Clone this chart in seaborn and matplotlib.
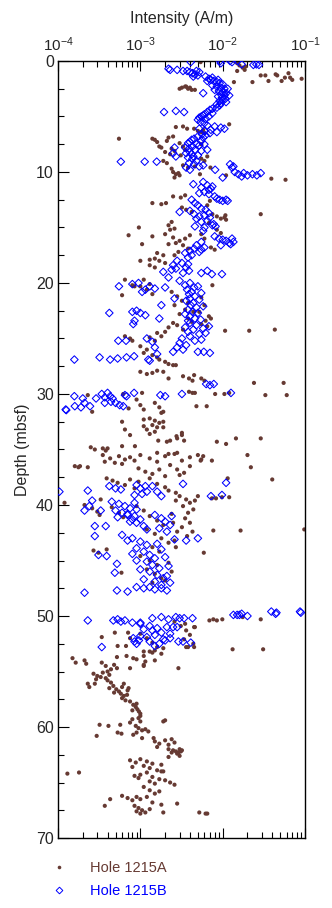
import matplotlib
matplotlib.use("Agg")
import matplotlib.pyplot as plt
import seaborn as sns
import pandas as pd
from matplotlib.lines import Line2D
from matplotlib.ticker import MultipleLocator, LogLocator, NullFormatter

# ---------------- data: (depth mbsf, intensity A/m) ----------------
hole_a_0_12 = [
    (0.1, 5.4e-3), (0.0, 1.4e-2), (0.2, 1.5e-2), (0.4, 1.6e-2), (0.6, 1.75e-2), (0.9, 1.5e-2),
    (0.5, 1.9e-2), (0.8, 1.85e-2), (1.3, 2.9e-2), (1.3, 3.3e-2), (1.8, 3.6e-2), (1.2, 4.4e-2),
    (1.3, 4.6e-2), (1.8, 5.2e-2), (1.5, 5.7e-2), (1.1, 6.3e-2), (1.5, 6.6e-2), (1.7, 7.0e-2),
    (1.6, 9.1e-2), (1.9, 1.37e-2), (1.9, 2.3e-2),
    (2.5, 3.0e-3), (2.4, 3.2e-3), (2.3, 3.5e-3), (2.5, 3.8e-3), (2.4, 4.0e-3), (2.6, 4.2e-3),
    (2.3, 3.6e-3), (2.6, 4.6e-3),
    (5.95, 2.7e-3), (5.9, 3.3e-3), (6.1, 3.7e-3), (6.1, 4.5e-3), (6.3, 5.0e-3), (6.4, 5.5e-3),
    (6.2, 5.8e-3), (6.5, 6.0e-3), (5.7, 1.2e-2),
    (7.0, 5.5e-4), (7.0, 1.4e-3), (7.1, 1.5e-3), (7.3, 1.6e-3), (7.8, 1.8e-3), (6.9, 2.2e-3),
    (6.8, 2.5e-3), (7.9, 2.4e-3), (8.1, 2.6e-3), (8.2, 2.0e-3), (8.4, 2.3e-3), (7.4, 3.0e-3),
    (7.7, 3.3e-3), (8.0, 3.5e-3), (8.5, 3.1e-3), (9.4, 3.3e-3), (9.6, 3.8e-3), (9.5, 4.6e-3),
    (9.7, 2.4e-3), (10.0, 2.5e-3), (10.2, 2.7e-3), (10.1, 2.9e-3), (10.3, 3.0e-3), (10.2, 5.3e-3),
    (10.3, 1.1e-2), (10.6, 3.9e-2), (10.7, 5.8e-2), (9.6, 7.1e-3), (7.2, 2.1e-3), (7.7, 1.7e-3),
    (8.8, 5.5e-3), (9.0, 6.0e-3), (8.6, 6.5e-3), (7.5, 5.5e-3), (9.2, 2.1e-3), (9.0, 1.9e-3),
    (10.5, 2.6e-3),
]
hole_a_12_24 = [
    (12.2, 2.5e-3), (12.3, 3.1e-3), (12.1, 3.5e-3), (12.8, 1.4e-3), (12.9, 1.8e-3), (12.8, 2.05e-3),
    (13.2, 3.2e-3), (13.4, 3.6e-3), (13.6, 4.2e-3), (13.8, 7.5e-3), (14.0, 8.5e-3), (14.2, 9.5e-3),
    (14.1, 1.05e-2), (14.3, 1.1e-2), (13.9, 1.08e-2), (13.8, 2.9e-2),
    (14.5, 2.4e-3), (14.8, 2.2e-3), (15.1, 2.6e-3), (15.2, 2.3e-3), (15.0, 9.6e-4), (15.7, 7.2e-4),
    (15.8, 1.4e-3), (15.6, 2.0e-3), (15.9, 2.5e-3), (16.2, 3.0e-3), (16.4, 2.7e-3), (16.6, 3.3e-3),
    (16.9, 3.8e-3), (17.2, 2.9e-3), (17.5, 2.6e-3), (16.0, 3.5e-3), (15.7, 4.0e-3), (16.5, 2.2e-3),
    (16.5, 1.05e-3), (17.3, 1.6e-3), (17.5, 1.9e-3), (17.8, 1.5e-3), (18.0, 1.7e-3), (18.2, 2.0e-3),
    (17.9, 1.3e-3), (18.0, 1.0e-3), (18.4, 1.3e-3), (18.6, 1.5e-3),
    (19.7, 6.5e-4), (20.2, 8.0e-4), (20.3, 8.5e-4), (21.1, 6.0e-4), (19.7, 1.1e-3), (20.1, 1.3e-3),
    (20.6, 1.2e-3), (21.0, 1.4e-3), (20.3, 1.0e-3),
    (20.8, 2.4e-3), (21.2, 2.8e-3), (21.6, 3.2e-3), (22.0, 2.6e-3), (22.4, 3.5e-3), (22.8, 3.0e-3),
    (23.2, 3.8e-3), (23.5, 4.2e-3), (21.8, 3.8e-3), (22.6, 4.4e-3), (21.3, 5.5e-3), (22.0, 6.0e-3),
    (22.6, 5.2e-3), (23.0, 6.8e-3), (23.2, 7.2e-3), (23.4, 6.2e-3), (20.2, 7.5e-3),
    (15.6, 5.5e-3), (16.0, 6.0e-3), (15.2, 8.5e-3), (15.5, 9.5e-3), (12.6, 7.0e-3), (13.0, 6.5e-3),
    (14.6, 6.8e-3), (16.8, 7.2e-3), (17.0, 8.0e-3),
]
hole_a_24_36 = [
    (24.3, 1.07e-2), (24.3, 2.1e-2), (24.2, 4.3e-2),
    (23.6, 2.5e-3), (23.8, 2.8e-3), (24.0, 2.2e-3), (24.4, 2.0e-3), (24.8, 1.8e-3), (25.2, 1.5e-3),
    (24.9, 1.3e-3), (24.5, 1.6e-3), (24.2, 3.3e-3), (23.7, 5.5e-3), (23.9, 6.5e-3),
    (24.8, 6.5e-4), (25.0, 7.5e-4), (25.2, 8.0e-4), (25.7, 1.0e-3), (26.0, 1.2e-3), (26.3, 1.1e-3),
    (26.5, 1.4e-3), (26.7, 1.6e-3), (26.9, 1.7e-3), (27.1, 2.0e-3), (27.3, 2.2e-3), (27.4, 2.5e-3),
    (27.4, 2.7e-3), (28.0, 1.0e-3), (28.2, 1.2e-3), (28.1, 1.4e-3), (27.9, 1.6e-3), (28.0, 1.9e-3),
    (28.6, 2.2e-3), (28.4, 3.3e-3), (28.6, 3.9e-3), (28.3, 4.5e-3), (28.8, 4.3e-3), (28.6, 5.5e-3),
    (28.8, 6.0e-3),
    (30.0, 8.1e-3), (30.0, 1.05e-2), (29.9, 1.2e-2), (29.0, 2.4e-2), (30.1, 3.3e-2), (29.0, 5.5e-2),
    (30.1, 6.0e-2),
    (30.1, 2.3e-4), (31.6, 2.6e-4), (30.0, 6.2e-4), (29.9, 1.05e-3), (30.5, 9.0e-4), (31.0, 1.0e-3),
    (31.4, 1.1e-3), (30.8, 1.5e-3), (31.2, 1.7e-3), (31.6, 1.9e-3), (31.3, 7.2e-4),
    (29.8, 3.9e-3), (29.9, 4.3e-3), (29.9, 4.6e-3), (31.1, 4.8e-3), (31.1, 6.4e-3),
    (32.2, 1.3e-3), (32.4, 1.5e-3), (32.6, 1.7e-3), (32.8, 1.4e-3), (33.0, 1.6e-3), (33.2, 1.2e-3),
    (33.4, 1.5e-3), (33.6, 1.3e-3), (32.5, 1.9e-3), (33.0, 1.9e-3), (32.3, 1.1e-3), (32.9, 1.1e-3),
    (31.7, 1.8e-3), (32.5, 6.0e-4), (33.2, 6.5e-4), (33.7, 7.5e-4),
    (33.7, 3.2e-3), (34.2, 3.4e-3), (34.0, 2.8e-3), (34.3, 8.5e-3), (34.5, 1.1e-2), (34.0, 1.45e-2),
    (34.0, 2.9e-2), (34.2, 1.65e-3), (34.3, 2.1e-3), (34.2, 2.3e-3),
    (34.8, 2.5e-4), (35.0, 2.8e-4), (34.9, 3.5e-4), (35.1, 3.8e-4), (34.9, 4.0e-4),
    (34.7, 6.0e-4), (34.7, 8.6e-4), (35.3, 1.6e-3), (35.4, 2.2e-3), (35.3, 2.8e-3), (35.5, 2.0e-2),
    (33.5, 3.2e-3), (33.8, 2.75e-3), (35.6, 5.8e-3),
]
hole_a_36_48 = [
    (35.5, 3.5e-4), (35.8, 4.3e-4), (35.6, 5.5e-4), (35.9, 6.5e-4), (35.7, 7.5e-4), (36.0, 8.5e-4),
    (35.5, 1.0e-3), (35.8, 1.3e-3), (36.1, 1.6e-3), (35.6, 2.0e-3), (35.4, 2.6e-3), (36.0, 3.2e-3),
    (35.7, 4.0e-3), (35.5, 5.0e-3), (35.9, 5.5e-3),
    (36.5, 1.6e-4), (36.6, 1.77e-4), (36.5, 1.85e-4), (36.6, 2.3e-4), (36.1, 3.7e-4), (36.2, 4.9e-4),
    (36.3, 6.0e-4),
    (37.6, 3.9e-4), (37.8, 4.6e-4), (38.0, 5.3e-4), (38.2, 6.5e-4), (37.7, 7.5e-4), (38.5, 8.5e-4),
    (37.9, 9.5e-4), (36.7, 9.5e-4), (37.0, 1.15e-3), (37.2, 1.4e-3), (36.8, 1.7e-3), (37.4, 2.0e-3),
    (37.6, 1.3e-3), (36.4, 2.3e-3), (36.8, 2.8e-3), (37.1, 3.4e-3), (36.5, 4.0e-3), (37.3, 3.0e-3),
    (36.0, 5.4e-3), (36.0, 7.4e-3), (37.6, 1.15e-2), (36.6, 2.2e-2), (37.7, 4.0e-2),
    (38.1, 1.6e-3), (38.4, 2.0e-3), (38.7, 2.2e-3), (38.9, 2.7e-3), (39.2, 3.0e-3), (39.5, 3.6e-3),
    (39.8, 4.0e-3), (40.1, 3.3e-3), (40.4, 4.4e-3), (40.7, 3.8e-3), (39.2, 5.0e-3), (39.6, 4.6e-3),
    (39.4, 7.4e-3), (39.4, 8.3e-3), (39.3, 9.8e-3), (39.3, 1.2e-2), (39.6, 2.7e-3),
    (39.8, 1.2e-4), (40.0, 2.1e-4), (40.3, 2.6e-4), (40.6, 3.0e-4), (40.9, 3.2e-4),
    (39.5, 3.3e-4), (40.2, 4.5e-4), (40.7, 5.5e-4), (41.1, 6.2e-4),
    (40.1, 9.0e-4), (40.5, 1.1e-3), (41.0, 1.3e-3), (41.4, 1.6e-3), (41.8, 1.9e-3), (42.2, 1.2e-3),
    (42.6, 1.5e-3), (43.0, 1.8e-3), (43.4, 2.2e-3), (43.8, 1.4e-3), (44.2, 1.7e-3), (41.6, 2.5e-3),
    (42.4, 2.8e-3), (43.2, 2.6e-3), (40.8, 2.4e-3),
    (41.2, 3.5e-3), (41.6, 4.0e-3), (42.0, 3.2e-3), (42.4, 4.3e-3), (42.8, 3.7e-3),
    (42.3, 7.7e-3), (42.3, 1.65e-2), (42.2, 9.8e-2), (44.3, 5.9e-3), (43.8, 2.7e-3),
    (44.1, 2.7e-4), (44.3, 3.1e-4), (44.0, 3.9e-4),
    (44.6, 1.0e-3), (45.0, 1.3e-3), (45.4, 1.6e-3), (45.8, 1.2e-3), (46.2, 1.5e-3), (46.6, 1.8e-3),
    (47.0, 1.4e-3), (45.2, 2.2e-3), (46.0, 2.4e-3), (46.8, 2.0e-3), (46.1, 5.9e-4),
]
hole_a_48_59 = [
    (50.4, 6.9e-3), (50.3, 7.7e-3), (50.4, 8.5e-3), (50.3, 9.9e-3), (50.1, 1.75e-2), (50.3, 2.9e-2),
    (53.0, 1.32e-2), (53.0, 3.1e-2), (54.7, 2.9e-3),
    (51.9, 3.4e-4), (51.5, 4.9e-4), (52.7, 5.3e-4), (52.7, 6.7e-4), (51.5, 7.1e-4), (52.0, 7.5e-4),
    (51.6, 1.0e-3), (52.0, 1.2e-3), (52.4, 1.4e-3), (52.8, 1.6e-3), (53.2, 1.3e-3), (53.6, 1.1e-3),
    (54.0, 1.5e-3), (53.4, 1.8e-3), (52.9, 1.9e-3), (54.1, 1.15e-3),
    (50.5, 2.6e-3), (50.9, 3.1e-3), (51.3, 3.6e-3), (51.7, 4.0e-3), (52.1, 3.4e-3), (52.5, 4.4e-3),
    (52.8, 3.8e-3), (51.0, 4.6e-3), (50.7, 3.5e-3), (51.0, 4.5e-3), (52.8, 3.6e-3), (52.8, 4.5e-3),
    (53.6, 6.8e-4), (53.8, 8.2e-4), (53.9, 9.0e-4), (54.4, 1.1e-3), (53.2, 1.1e-3), (53.3, 1.4e-3),
    (53.1, 1.5e-3), (53.7, 5.2e-4),
    (53.8, 1.5e-4), (54.2, 1.64e-4), (54.0, 2.1e-4), (54.3, 2.2e-4),
    (54.2, 3.4e-4), (54.5, 3.8e-4), (54.8, 4.4e-4), (55.0, 4.0e-4), (54.4, 4.8e-4), (54.7, 5.2e-4),
    (55.1, 3.5e-4), (55.2, 2.7e-4), (55.4, 3.0e-4), (55.5, 3.3e-4), (55.6, 3.8e-4), (55.3, 4.2e-4),
    (55.7, 2.9e-4), (56.1, 2.3e-4), (56.4, 2.4e-4), (56.1, 2.8e-4),
    (55.8, 4.0e-4), (56.0, 4.4e-4), (56.3, 4.7e-4), (56.6, 5.1e-4), (56.9, 4.8e-4), (56.5, 4.2e-4),
    (56.8, 5.5e-4), (57.0, 5.8e-4), (57.2, 6.3e-4), (57.4, 6.0e-4), (57.6, 6.6e-4), (57.1, 6.9e-4),
    (56.4, 6.0e-4), (56.7, 7.0e-4),
    (57.7, 7.5e-4), (58.0, 8.2e-4), (58.2, 8.8e-4), (58.4, 9.2e-4), (58.6, 9.6e-4), (58.8, 1.0e-3),
    (59.0, 1.0e-3), (59.2, 9.5e-4), (58.5, 8.0e-4), (57.9, 9.0e-4),
    (56.1, 6.3e-4), (56.5, 7.2e-4), (54.7, 7.5e-4), (54.5, 1.1e-3),
]
hole_a_59_70 = [
    (59.8, 3.2e-4), (59.9, 4.1e-4), (60.8, 2.95e-4), (59.8, 5.7e-4), (60.5, 5.3e-4), (60.6, 5.9e-4),
    (59.3, 8.0e-4), (59.6, 7.5e-4), (59.9, 8.8e-4), (60.1, 9.5e-4), (60.3, 1.05e-3), (60.5, 9.0e-4),
    (60.7, 8.2e-4), (60.2, 1.15e-3), (60.4, 1.25e-3), (59.5, 1.0e-3), (61.0, 1.05e-3),
    (59.5, 1.9e-3), (59.4, 2.0e-3),
    (61.0, 1.45e-3), (61.3, 1.5e-3), (61.5, 1.7e-3), (61.8, 1.6e-3), (61.2, 2.0e-3), (61.6, 2.2e-3),
    (61.1, 2.4e-3), (61.4, 2.6e-3),
    (62.0, 2.2e-3), (62.1, 2.5e-3), (62.2, 2.7e-3), (62.3, 2.9e-3), (62.0, 3.0e-3), (62.2, 3.1e-3),
    (62.4, 2.8e-3), (62.1, 3.2e-3), (62.3, 2.4e-3), (62.6, 3.0e-3), (62.7, 2.2e-3),
    (62.9, 1.0e-3), (63.1, 1.2e-3), (63.3, 1.4e-3), (63.5, 1.1e-3), (63.7, 1.3e-3), (63.9, 1.6e-3),
    (64.1, 1.2e-3), (64.3, 1.0e-3), (64.5, 1.4e-3), (64.7, 1.7e-3), (64.9, 1.3e-3), (65.1, 1.5e-3),
    (63.4, 1.8e-3), (64.0, 1.9e-3), (63.2, 8.8e-4), (64.6, 9.5e-4),
    (64.2, 1.3e-4), (64.1, 1.8e-4),
    (64.0, 1.8e-3), (64.8, 2.0e-3), (65.0, 2.3e-3), (65.2, 2.6e-3),
    (65.4, 1.1e-3), (65.7, 1.3e-3), (66.0, 1.5e-3), (66.3, 1.2e-3), (65.8, 1.7e-3), (66.5, 1.0e-3),
    (67.1, 3.7e-4), (66.5, 4.3e-4), (66.2, 6.0e-4), (66.4, 7.0e-4), (66.6, 8.0e-4), (66.3, 9.0e-4),
    (67.1, 8.5e-4), (67.3, 9.5e-4), (67.5, 1.05e-3), (67.7, 1.15e-3), (67.4, 1.3e-3), (67.6, 9.0e-4),
    (67.8, 1.0e-3), (67.7, 1.9e-3), (67.0, 1.8e-3), (66.9, 2.8e-3), (67.7, 5.2e-3), (67.8, 6.2e-3),
    (67.8, 6.5e-3), (66.8, 1.4e-3), (63.0, 7.5e-4), (63.6, 8.0e-4), (64.4, 8.5e-4),
]

hole_b_0_12 = [
    (0.1, 4.1e-3), (0.2, 9.5e-3), (0.0, 1.23e-2), (0.0, 1.52e-2), (0.3, 1.7e-2), (0.35, 2.36e-2),
    (0.3, 2.57e-2), (0.35, 2.76e-2), (0.0, 9.3e-3), (0.1, 1.3e-2),
    (0.7, 2.2e-3), (0.8, 2.3e-3), (0.8, 2.8e-3), (0.9, 3.3e-3),
    (0.9, 3.7e-3), (1.0, 4.0e-3), (1.1, 4.3e-3), (1.2, 4.6e-3), (1.3, 5.0e-3), (1.0, 5.2e-3),
    (1.4, 4.4e-3), (0.9, 4.8e-3),
    (1.4, 6.2e-3), (1.6, 6.8e-3), (1.7, 7.2e-3), (1.8, 7.8e-3), (1.9, 8.5e-3), (2.0, 9.2e-3),
    (1.5, 7.5e-3), (1.8, 6.5e-3), (1.7, 8.8e-3), (2.1, 1.0e-2),
    (2.2, 7.5e-3), (2.3, 8.5e-3), (2.4, 9.5e-3), (2.5, 1.05e-2), (2.6, 8.0e-3), (2.7, 9.0e-3),
    (2.8, 1.0e-2), (2.9, 1.1e-2), (2.9, 5.8e-3), (3.0, 9.5e-3), (3.1, 1.05e-2), (3.2, 8.8e-3),
    (3.3, 9.8e-3), (3.4, 1.08e-2), (3.5, 1.0e-2), (3.6, 9.2e-3), (3.7, 1.1e-2), (3.8, 9.5e-3),
    (3.9, 8.5e-3), (2.5, 1.15e-2), (3.1, 1.2e-2),
    (4.0, 9.2e-3), (4.2, 8.5e-3), (4.3, 7.5e-3), (4.4, 7.0e-3),
    (4.6, 1.94e-3), (4.5, 2.7e-3), (4.6, 3.4e-3),
    (4.6, 6.5e-3), (4.8, 6.0e-3), (4.9, 5.8e-3), (5.0, 5.5e-3), (5.1, 5.2e-3), (5.2, 6.2e-3),
    (5.3, 5.0e-3), (5.5, 5.4e-3), (5.6, 6.0e-3), (5.0, 6.8e-3), (4.7, 7.5e-3),
    (5.8, 6.5e-3), (5.9, 8.0e-3), (6.0, 9.5e-3), (6.1, 1.05e-2), (6.2, 7.2e-3), (6.3, 6.0e-3),
    (6.4, 8.5e-3), (6.5, 7.0e-3), (6.6, 5.6e-3), (6.7, 6.2e-3), (6.8, 5.0e-3), (6.9, 5.8e-3),
    (6.1, 5.2e-3),
    (7.0, 4.5e-3), (7.1, 4.2e-3), (7.2, 5.5e-3), (7.3, 4.0e-3), (7.4, 3.8e-3), (7.5, 4.8e-3),
    (7.6, 5.2e-3), (7.7, 4.3e-3), (7.8, 3.5e-3), (7.9, 3.9e-3), (8.0, 4.6e-3), (8.1, 5.5e-3),
    (8.2, 4.0e-3), (8.3, 3.6e-3), (8.4, 4.2e-3), (8.5, 5.0e-3), (8.6, 4.4e-3), (8.7, 3.8e-3),
    (8.0, 6.5e-3), (7.5, 6.0e-3), (7.8, 2.6e-3), (8.3, 2.5e-3), (8.6, 2.7e-3),
    (9.07, 5.8e-4), (9.07, 1.13e-3), (9.07, 1.58e-3),
    (8.8, 4.3e-3), (9.0, 4.8e-3), (9.2, 3.9e-3), (9.3, 4.5e-3), (9.5, 5.2e-3), (9.6, 3.6e-3),
    (9.8, 4.0e-3), (9.4, 5.8e-3), (9.8, 8.1e-3), (9.3, 1.23e-2), (9.5, 1.35e-2), (9.6, 1.3e-2),
    (10.0, 1.4e-2), (10.2, 1.55e-2), (10.1, 1.8e-2), (10.3, 2.0e-2), (10.2, 2.3e-2), (10.3, 2.6e-2),
    (10.1, 2.9e-2), (10.4, 1.7e-2), (10.5, 1.0e-2),
    (11.1, 4.4e-3), (10.9, 5.8e-3), (11.2, 6.5e-3), (11.4, 5.5e-3), (11.6, 6.8e-3), (11.8, 6.0e-3),
    (11.5, 7.2e-3), (11.9, 5.2e-3), (11.3, 7.5e-3),
]
hole_b_12_24 = [
    (12.0, 6.8e-3), (12.2, 8.0e-3), (12.4, 8.5e-3), (12.5, 9.2e-3), (12.6, 1.0e-2), (12.5, 1.1e-2),
    (12.6, 1.15e-2), (12.5, 4.2e-3), (12.8, 4.6e-3), (13.0, 5.0e-3), (13.6, 3.0e-3), (13.5, 4.0e-3),
    (13.8, 4.5e-3), (14.0, 5.2e-3), (14.2, 4.8e-3), (14.5, 5.5e-3), (13.3, 5.5e-3), (13.9, 6.0e-3),
    (13.4, 6.2e-3), (13.7, 6.8e-3), (14.1, 7.0e-3), (14.4, 6.5e-3), (14.8, 7.5e-3), (15.0, 6.0e-3),
    (15.3, 5.8e-3), (14.9, 4.6e-3), (14.7, 7.8e-3), (14.9, 8.2e-3),
    (15.8, 8.0e-3), (16.0, 9.0e-3), (16.1, 1.0e-2), (16.2, 1.1e-2), (16.4, 1.2e-2), (16.5, 1.25e-2),
    (16.3, 1.35e-2), (16.6, 9.5e-3), (16.0, 1.3e-2),
    (16.3, 5.5e-3), (16.6, 4.8e-3), (16.9, 4.5e-3), (17.1, 4.0e-3), (17.3, 3.5e-3), (17.5, 4.2e-3),
    (17.7, 3.8e-3), (17.2, 5.2e-3), (16.8, 6.0e-3), (17.0, 5.5e-3),
    (18.0, 2.8e-3), (18.2, 3.2e-3), (18.4, 2.5e-3), (18.6, 3.6e-3), (18.7, 2.7e-3), (18.9, 3.9e-3),
    (19.1, 3.3e-3), (18.3, 3.8e-3), (18.8, 2.4e-3),
    (19.1, 5.5e-3), (19.2, 7.4e-3), (19.2, 9.8e-3), (18.9, 6.5e-3),
    (20.3, 5.5e-4), (20.1, 8.0e-4), (20.0, 9.5e-4), (20.8, 1.05e-3), (20.6, 1.15e-3), (20.3, 1.3e-3),
    (19.8, 3.0e-3), (20.0, 4.0e-3), (20.2, 3.5e-3), (20.4, 4.5e-3), (20.6, 3.7e-3), (20.8, 4.2e-3),
    (21.0, 3.9e-3), (21.2, 4.6e-3), (21.4, 4.0e-3), (21.6, 3.6e-3), (21.8, 4.4e-3), (22.0, 4.1e-3),
    (22.2, 4.8e-3), (22.4, 3.8e-3), (22.6, 4.3e-3), (22.8, 3.5e-3), (23.0, 4.0e-3), (23.2, 4.6e-3),
    (23.4, 3.8e-3),
    (20.3, 5.0e-3), (20.9, 5.5e-3), (21.5, 5.2e-3), (22.1, 5.8e-3), (22.7, 5.0e-3), (23.3, 5.4e-3),
    (22.7, 4.2e-4), (22.6, 8.0e-4), (22.5, 9.0e-4), (22.7, 1.0e-3), (22.9, 1.15e-3), (23.4, 8.5e-4),
    (20.5, 1.5e-3), (20.4, 2.0e-3), (21.4, 2.6e-3), (22.0, 1.8e-3), (23.2, 1.7e-3), (19.0, 1.9e-3),
    (19.5, 2.2e-3),
]
hole_b_24_36 = [
    (23.6, 4.0e-3), (23.8, 4.8e-3), (24.0, 3.5e-3), (24.2, 4.4e-3), (24.4, 3.8e-3), (24.6, 5.2e-3),
    (24.8, 4.0e-3), (25.0, 3.2e-3), (25.2, 4.6e-3), (25.4, 3.0e-3), (25.6, 3.6e-3), (25.8, 2.8e-3),
    (26.0, 3.3e-3), (26.2, 2.5e-3), (24.1, 5.8e-3), (24.5, 6.2e-3), (23.9, 6.8e-3), (25.1, 5.5e-3),
    (23.7, 8.2e-4), (25.2, 5.4e-4), (25.2, 6.7e-4),
    (26.2, 5.0e-3), (26.2, 5.9e-3), (26.3, 7.0e-3),
    (26.9, 1.58e-4), (26.7, 3.2e-4), (26.9, 4.3e-4), (26.8, 5.3e-4), (26.7, 6.8e-4), (26.6, 8.4e-4),
    (26.9, 1.25e-3), (27.0, 1.3e-3),
    (25.0, 1.2e-3), (25.3, 1.4e-3), (25.8, 1.5e-3), (26.4, 1.6e-3),
    (29.1, 6.3e-3), (29.2, 7.0e-3), (29.1, 7.8e-3), (29.9, 1.26e-2),
    (30.1, 1.75e-3), (30.2, 2.0e-3), (30.0, 3.2e-3), (30.1, 6.5e-4), (30.2, 6.8e-4), (29.9, 8.4e-4),
    (31.4, 1.24e-4), (31.45, 1.26e-4), (30.2, 1.58e-4), (31.1, 1.6e-4), (31.2, 1.9e-4), (30.4, 2.0e-4),
    (30.8, 2.1e-4), (31.1, 2.45e-4), (30.4, 2.9e-4), (30.0, 3.4e-4), (30.3, 3.7e-4), (29.9, 4.0e-4),
    (30.2, 4.3e-4), (30.4, 4.6e-4), (30.7, 4.4e-4), (30.8, 3.7e-4), (30.8, 5.0e-4), (31.0, 5.6e-4),
    (31.1, 6.2e-4),
]
hole_b_36_48 = [
    (38.8, 1.04e-4), (38.7, 2.3e-4), (39.6, 2.6e-4), (40.5, 2.1e-4), (40.1, 2.4e-4), (40.5, 3.3e-4),
    (41.9, 2.8e-4), (42.8, 2.8e-4), (44.5, 3.1e-4), (44.6, 3.9e-4), (41.9, 3.8e-4), (45.3, 5.2e-4),
    (46.1, 4.9e-4),
    (38.3, 4.2e-4), (38.5, 5.0e-4), (38.6, 5.8e-4),
    (39.7, 4.5e-4), (39.9, 5.5e-4), (40.1, 6.5e-4), (40.3, 7.5e-4), (40.5, 5.0e-4), (40.7, 6.0e-4),
    (40.9, 7.0e-4), (41.1, 5.3e-4), (41.3, 8.0e-4), (39.8, 8.5e-4), (40.4, 9.0e-4),
    (38.2, 9.0e-4), (38.5, 1.0e-3), (38.8, 1.2e-3), (39.1, 8.5e-4), (38.3, 1.15e-3), (39.0, 1.05e-3),
    (38.3, 1.4e-3), (38.8, 1.6e-3), (39.2, 1.8e-3),
    (38.1, 3.3e-3), (38.0, 1.1e-2), (39.1, 9.8e-3), (39.2, 7.2e-3),
    (40.8, 7.0e-4), (41.0, 8.5e-4), (41.3, 1.0e-3), (41.6, 9.0e-4), (41.9, 1.1e-3), (42.2, 1.2e-3),
    (41.5, 7.5e-4),
    (40.9, 1.5e-3), (41.2, 1.8e-3), (41.5, 2.0e-3), (41.8, 2.3e-3), (42.1, 1.7e-3), (42.4, 2.1e-3),
    (41.0, 2.4e-3),
    (43.1, 2.6e-3), (43.2, 3.6e-3), (43.0, 5.0e-3),
    (42.7, 6.0e-4), (43.0, 8.0e-4), (43.3, 1.0e-3), (43.6, 1.2e-3), (43.9, 9.0e-4), (44.2, 1.1e-3),
    (44.5, 1.3e-3), (44.8, 1.5e-3), (45.1, 1.2e-3), (45.4, 1.4e-3), (45.7, 1.7e-3), (46.0, 1.3e-3),
    (46.3, 1.6e-3), (46.6, 1.9e-3), (46.9, 1.5e-3), (47.2, 1.8e-3), (43.5, 1.6e-3), (44.0, 1.8e-3),
    (44.7, 2.0e-3), (45.5, 2.2e-3), (46.4, 2.1e-3), (47.0, 2.3e-3), (43.2, 7.0e-4), (44.4, 8.0e-4),
    (45.0, 9.0e-4), (45.8, 1.0e-3), (46.7, 1.1e-3),
]
hole_b_48_59 = [
    (47.9, 2.1e-4), (47.7, 5.2e-4), (47.8, 7.0e-4), (47.4, 9.0e-4), (47.5, 1.1e-3), (47.4, 1.3e-3),
    (47.6, 1.5e-3), (47.5, 1.8e-3), (47.7, 2.1e-3),
    (50.4, 2.3e-4), (50.4, 4.7e-4), (50.3, 5.3e-4), (50.5, 5.8e-4), (50.4, 6.5e-4), (50.6, 8.0e-4),
    (50.6, 1.0e-3), (50.2, 1.4e-3), (50.1, 1.8e-3), (50.3, 2.2e-3), (50.1, 2.7e-3), (50.2, 3.0e-3),
    (50.2, 3.4e-3), (50.2, 4.3e-3), (49.9, 1.35e-2), (49.9, 1.5e-2), (49.9, 1.6e-2), (49.8, 1.7e-2),
    (50.0, 2.0e-2), (49.6, 3.9e-2), (49.8, 4.4e-2), (49.7, 4.5e-2), (49.6, 8.7e-2), (49.7, 8.9e-2),
    (52.8, 3.4e-4), (52.0, 8.2e-4), (52.3, 8.5e-4), (52.5, 9.0e-4), (52.2, 9.6e-4),
    (50.7, 1.0e-3), (50.9, 1.3e-3), (51.1, 1.6e-3), (51.3, 1.4e-3), (51.5, 1.8e-3), (51.7, 1.5e-3),
    (51.9, 1.2e-3), (52.1, 1.9e-3), (52.3, 1.3e-3), (52.5, 1.7e-3), (51.0, 2.1e-3), (51.6, 2.3e-3),
    (52.2, 2.0e-3), (52.7, 1.5e-3), (51.2, 1.1e-3), (51.8, 1.0e-3),
    (52.0, 2.3e-3), (52.3, 2.9e-3), (52.3, 3.3e-3), (52.4, 4.1e-3), (51.0, 2.5e-3), (51.0, 2.8e-3),
]

hole_labels = ["Hole 1215A", "Hole 1215B"]
x_limits = [1e-4, 1e-1]
depth_limits = [70, 0]

BROWN = "#663a33"
BLUE = "#0000ff"


def to_frame(parts, label):
    rows = [pair for part in parts for pair in part]
    df = pd.DataFrame(rows, columns=["depth", "intensity"])
    df["hole"] = label
    return df


df_a = to_frame([hole_a_0_12, hole_a_12_24, hole_a_24_36, hole_a_36_48, hole_a_48_59, hole_a_59_70],
                hole_labels[0])
df_b = to_frame([hole_b_0_12, hole_b_12_24, hole_b_24_36, hole_b_36_48, hole_b_48_59], hole_labels[1])

sns.set_theme(style="white")
plt.rcParams["font.family"] = ["Liberation Sans", "DejaVu Sans"]
plt.rcParams["mathtext.fontset"] = "custom"
plt.rcParams["mathtext.rm"] = "Liberation Sans"
plt.rcParams["mathtext.it"] = "Liberation Sans"

W, H = 332, 908
fig = plt.figure(figsize=(W / 100, H / 100), dpi=100)
ax = fig.add_axes([58 / W, 1 - 838 / H, (305 - 58) / W, (838 - 61) / H])

sns.scatterplot(data=df_a, x="intensity", y="depth", ax=ax, color=BROWN, marker="o", s=9,
                linewidth=0, edgecolor="none", legend=False, zorder=2)
sns.scatterplot(data=df_b, x="intensity", y="depth", ax=ax, color=BLUE, marker="D", s=15,
                facecolor="none", edgecolor=BLUE, linewidth=0.75, legend=False, zorder=3)

ax.set_xscale("log")
ax.set_xlim(*x_limits)
ax.set_ylim(*depth_limits)

ax.xaxis.set_major_locator(LogLocator(base=10, numticks=10))
ax.xaxis.set_minor_locator(LogLocator(base=10, subs=range(2, 10), numticks=20))
ax.xaxis.set_minor_formatter(NullFormatter())
ax.xaxis.tick_top()
ax.xaxis.set_label_position("top")
ax.tick_params(axis="x", which="both", top=True, bottom=True, direction="in",
               labeltop=True, labelbottom=False, color="black")
ax.tick_params(axis="x", which="major", length=7, width=0.8, labelsize=11, pad=5)
ax.tick_params(axis="x", which="minor", length=4, width=0.8)

ax.yaxis.set_major_locator(MultipleLocator(10))
ax.yaxis.set_minor_locator(MultipleLocator(2.5))
ax.tick_params(axis="y", which="both", left=True, right=False, direction="in", color="black")
ax.tick_params(axis="y", which="major", length=8, width=0.8, labelsize=11.5, pad=3)
ax.tick_params(axis="y", which="minor", length=4.5, width=0.8)

for sp in ax.spines.values():
    sp.set_color("black")
    sp.set_linewidth(1.0)

ax.set_xlabel("Intensity (A/m)", fontsize=11.5, labelpad=9)
ax.set_ylabel("Depth (mbsf)", fontsize=11.5, labelpad=4)
ax.grid(False)

handles = [
    Line2D([], [], linestyle="none", marker="o", markersize=2.6, markerfacecolor=BROWN,
           markeredgewidth=0),
    Line2D([], [], linestyle="none", marker="D", markersize=3.4, markerfacecolor="none",
           markeredgecolor=BLUE, markeredgewidth=0.7),
]
leg = fig.legend(handles, hole_labels, loc="upper left", bbox_to_anchor=(52 / W, 1 - 861 / H),
                 frameon=False, fontsize=10.5, handlelength=1.0, handletextpad=1.6,
                 labelspacing=0.62, borderpad=0, borderaxespad=0)
for txt, c in zip(leg.get_texts(), [BROWN, BLUE]):
    txt.set_color(c)

fig.savefig("out.png", dpi=100)
